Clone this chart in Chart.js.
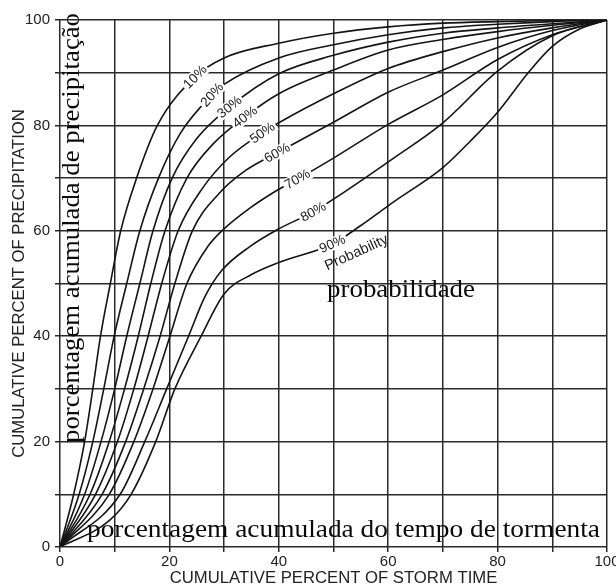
<!DOCTYPE html>
<html>
<head>
<meta charset="utf-8">
<script src="https://cdn.jsdelivr.net/npm/chart.js@4.4.1/dist/chart.umd.min.js"></script>
<style>
html,body{margin:0;padding:0;background:#fff;}
#wrap{width:616px;height:584px;position:relative;}
</style>
</head>
<body>
<div id="wrap"><canvas id="c" width="616" height="584"></canvas></div>
<script>
// ---- data (cumulative % storm time -> cumulative % precipitation)
const probabilityLabels = ['10%','20%','30%','40%','50%','60%','70%','80%','90%'];

const time10   = [0, 2.5, 4.5, 6, 7.4, 9.2, 11.1, 14, 17.8, 24.7, 30, 40, 50, 60, 70, 80, 90, 100];
const precip10 = [0, 10, 20, 30, 40, 50, 60, 70, 80, 89.2, 92.8, 95.6, 97.5, 98.7, 99.4, 99.7, 99.9, 100];

const time20   = [0, 3.5, 6, 8, 9.9, 12.2, 14.6, 18, 22, 27.8, 30, 40, 50, 60, 70, 80, 90, 100];
const precip20 = [0, 10, 20, 30, 40, 50, 60, 70, 78.5, 85.8, 87.8, 92.8, 95.3, 97.2, 98.5, 99.2, 99.7, 100];

const time30   = [0, 4.5, 7.5, 10, 12.2, 14.6, 17, 20.5, 25, 31, 40, 50, 60, 70, 80, 90, 100];
const precip30 = [0, 10, 20, 30, 40, 50, 60, 70, 77.5, 83.5, 89.8, 93.3, 95.8, 97.5, 98.5, 99.3, 100];

const time40   = [0, 5.5, 9, 11.8, 14.3, 16.6, 19.2, 23.2, 28, 33.8, 40, 50, 60, 70, 80, 90, 100];
const precip40 = [0, 10, 20, 30, 40, 50, 60, 70, 76.5, 81.6, 86, 90.5, 94.3, 96.3, 97.8, 99, 100];

const time50   = [0, 6.5, 10.5, 13.5, 16.1, 18.6, 21.6, 26, 31, 37, 40, 50, 60, 70, 80, 90, 100];
const precip50 = [0, 10, 20, 30, 40, 50, 60, 68, 74, 78.6, 80.5, 86, 90.8, 94, 96.6, 98.5, 100];

const time60   = [0, 7.7, 12, 15.3, 18.3, 21, 24.2, 29, 34, 39.7, 50, 60, 70, 80, 90, 100];
const precip60 = [0, 10, 20, 30, 40, 50, 60, 67, 71.5, 74.8, 80.6, 86.3, 90.5, 94.8, 98, 100];

const time70   = [0, 9, 13.5, 17, 20.1, 23.2, 27, 29.6, 34.7, 39.7, 43.4, 50, 60, 70, 80, 90, 100];
const precip70 = [0, 10, 20, 30, 40, 50, 57, 60, 64.3, 67.7, 69.8, 73.8, 80.2, 85.8, 92.5, 97.2, 100];

const time80   = [0, 11, 15.5, 19.5, 23.5, 26.5, 29.6, 34.7, 39.7, 46.3, 50, 61, 70, 80, 90, 100];
const precip80 = [0, 10, 20, 30, 40, 47.5, 52.5, 57, 60.2, 63.6, 66, 73.8, 80.5, 90.3, 97, 100];

const time90   = [0, 9, 13, 17.5, 21, 25.8, 30, 35, 40, 49.8, 55, 61, 70, 75, 80, 85.6, 90, 95, 100];
const precip90 = [0, 5, 10, 20, 30, 40, 48, 51.7, 54, 57.5, 61, 65.5, 72, 77, 82.5, 90, 95, 98.3, 100];

// position (storm time %) along each curve where its probability label sits
const labelTime = [24.7, 27.8, 31, 33.8, 37, 39.7, 43.4, 46.3, 49.8];

const axisTickValues = [0, 20, 40, 60, 80, 100];

const xTitle = 'CUMULATIVE PERCENT OF STORM TIME';
const yTitle = 'CUMULATIVE PERCENT OF PRECIPITATION';
const ptY = 'porcentagem acumulada de precipitação';
const ptX = 'porcentagem acumulada do tempo de tormenta';
const ptProb = 'probabilidade';
const probWord = 'Probability';

// ---- build datasets
const curves = [
  [time10, precip10], [time20, precip20], [time30, precip30],
  [time40, precip40], [time50, precip50], [time60, precip60],
  [time70, precip70], [time80, precip80], [time90, precip90]
];

const datasets = curves.map((c, i) => ({
  label: probabilityLabels[i],
  data: c[0].map((t, j) => ({x: t, y: c[1][j]})),
  showLine: true,
  borderColor: '#141414',
  borderWidth: 1.6,
  pointRadius: 0,
  cubicInterpolationMode: 'monotone',
  fill: false
}));

const sans = '"Liberation Sans", Arial, Helvetica, sans-serif';
const serif = '"Liberation Serif", "Times New Roman", serif';

const curveLabelPlugin = {
  id: 'curveLabels',
  afterDatasetsDraw(chart) {
    const {ctx} = chart;
    const xs = chart.scales.x, ys = chart.scales.y;
    ctx.save();
    ctx.font = '13.5px ' + sans;
    ctx.textAlign = 'center';
    ctx.textBaseline = 'middle';
    curves.forEach((c, i) => {
      const t = c[0], p = c[1];
      const k = t.indexOf(labelTime[i]);
      if (k < 1) return;
      const px = xs.getPixelForValue(t[k]), py = ys.getPixelForValue(p[k]);
      const ax = xs.getPixelForValue(t[k-1]), ay = ys.getPixelForValue(p[k-1]);
      const bx = xs.getPixelForValue(t[k+1]), by = ys.getPixelForValue(p[k+1]);
      const ang = Math.atan2(by - ay, bx - ax);
      const txt = probabilityLabels[i];
      ctx.save();
      ctx.translate(px, py);
      ctx.rotate(ang);
      const w = ctx.measureText(txt).width;
      ctx.fillStyle = '#fff';
      ctx.fillRect(-w/2 - 2, -6.5, w + 4, 13);
      ctx.fillStyle = '#1a1a1a';
      ctx.fillText(txt, 0, 0.5);
      if (i === curves.length - 1) {
        ctx.textAlign = 'left';
        ctx.font = '14.5px ' + sans;
        ctx.fillText(probWord, -w/2 - 2, 18);
      }
      ctx.restore();
    });
    ctx.restore();
  }
};

function fitText(ctx, txt, x, y, angle, size, width) {
  ctx.save();
  ctx.font = size + 'px ' + serif;
  const w = ctx.measureText(txt).width;
  ctx.translate(x, y);
  ctx.rotate(angle);
  ctx.scale(width / w, 1);
  ctx.textAlign = 'left';
  ctx.textBaseline = 'alphabetic';
  ctx.fillStyle = '#0a0a0a';
  ctx.fillText(txt, 0, 0);
  ctx.restore();
}

const overlayPlugin = {
  id: 'ptOverlay',
  afterDraw(chart) {
    const {ctx, chartArea: a} = chart;
    fitText(ctx, ptY, a.left + 19, a.bottom - 104, -Math.PI / 2, 26, 430);
    fitText(ctx, ptX, a.left + 27, a.bottom - 10, 0, 26, 513);
    fitText(ctx, ptProb, a.left + 267, a.top + 277, 0, 26, 148);
  }
};

new Chart(document.getElementById('c'), {
  type: 'scatter',
  data: {datasets},
  options: {
    responsive: false,
    devicePixelRatio: 1,
    animation: false,
    layout: {padding: {top: 20, right: 9, left: 0, bottom: 0}},
    plugins: {legend: {display: false}, tooltip: {enabled: false}},
    scales: {
      x: {
        type: 'linear', min: 0, max: 100,
        ticks: {
          stepSize: 10, autoSkip: false, maxRotation: 0, padding: 1,
          color: '#222', font: {family: sans, size: 15},
          callback: v => axisTickValues.includes(v) ? String(v) : ''
        },
        grid: {color: '#2a2a2a', lineWidth: 1.5, tickLength: 5},
        border: {display: false},
        title: {display: true, text: xTitle, color: '#222',
                font: {family: sans, size: 16.7, lineHeight: 0.7}, padding: {top: 0, bottom: 0}},
        afterFit(s) { s.height = 37; s.paddingLeft = 0; s.paddingRight = 0; }
      },
      y: {
        type: 'linear', min: 0, max: 100,
        ticks: {
          stepSize: 10, autoSkip: false, padding: 5,
          color: '#222', font: {family: sans, size: 15},
          callback: v => axisTickValues.includes(v) ? String(v) : ''
        },
        grid: {color: '#2a2a2a', lineWidth: 1.5, tickLength: 5},
        border: {display: false},
        title: {display: true, text: yTitle, color: '#222',
                font: {family: sans, size: 16.7, lineHeight: 1}, padding: {top: 11, bottom: 0}},
        afterFit(s) { s.width = 60; s.paddingTop = 0; s.paddingBottom = 0; }
      }
    }
  },
  plugins: [curveLabelPlugin, overlayPlugin]
});
</script>
</body>
</html>
